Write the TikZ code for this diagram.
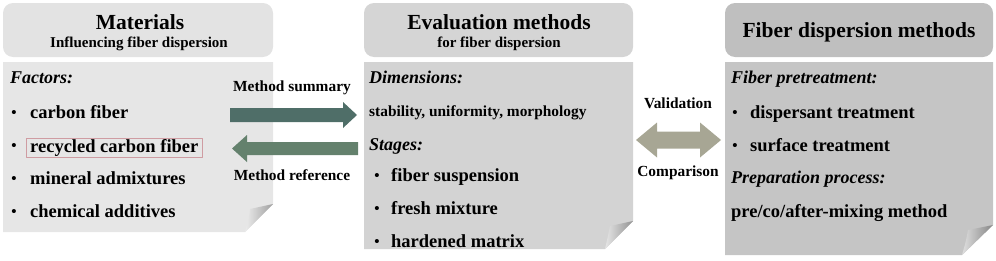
\documentclass[tikz,border=0pt]{standalone}
\usepackage{fontspec}
\setmainfont{Liberation Serif}

\definecolor{mathead}{HTML}{E3E3E3}
\definecolor{matbody}{HTML}{E6E6E6}
\definecolor{evalhead}{HTML}{D5D5D5}
\definecolor{evalbody}{HTML}{D3D3D3}
\definecolor{disphead}{HTML}{BFBFBF}
\definecolor{dispbody}{HTML}{C5C5C5}
\definecolor{sumarrow}{HTML}{4F6E68}
\definecolor{refarrow}{HTML}{64816D}
\definecolor{valarrow}{HTML}{A7A694}
\definecolor{markbox}{HTML}{CF9CA2}

\tikzset{
  headbox/.style={rounded corners=10pt},
  title/.style={inner sep=0pt, font=\fontsize{21.5}{24}\selectfont\bfseries},
  subtitle/.style={inner sep=0pt, font=\fontsize{15}{17}\selectfont\bfseries},
  item/.style={anchor=west, inner sep=0pt, text height=13pt, text depth=4pt, font=\fontsize{18.5}{20}\selectfont\bfseries},
  keyword/.style={item, font=\fontsize{18}{20}\selectfont\bfseries\itshape},
  smallitem/.style={item, text height=11pt, text depth=3pt, font=\fontsize{15.4}{17}\selectfont\bfseries},
  dot/.style={anchor=center, inner sep=0pt, font=\fontsize{15}{17}\selectfont\bfseries},
  arrowtext/.style={inner sep=0pt, font=\fontsize{15.4}{17}\selectfont\bfseries}
}

\begin{document}
\begin{tikzpicture}[x=1pt, y=-1pt, line join=round]
	\useasboundingbox (0,0) rectangle (996,260);

	\fill[mathead, headbox] (3,3) rectangle (273,57);
	\fill[matbody] (3,62) -- (273,62) -- (273,204) -- (245,232) -- (3,232) -- cycle;
	\shade[left color=white!85!gray, right color=gray!75] (273,204) -- (250,209) .. controls (249,218) .. (245,232) -- cycle;

	\fill[evalhead, headbox] (364,3) rectangle (633,57);
	\fill[evalbody] (364,62) -- (633,62) -- (633,221) -- (605,249) -- (364,249) -- cycle;
	\shade[left color=white!80!gray, right color=gray!85] (633,221) -- (610,226) .. controls (608,236) .. (605,249) -- cycle;

	\fill[disphead, headbox] (725,3) rectangle (993,57);
	\fill[dispbody] (725,62) -- (993,62) -- (993,225) -- (962,255) -- (725,255) -- cycle;
	\shade[left color=white!75!gray, right color=gray!95] (993,225) -- (968,230) .. controls (966,241) .. (962,255) -- cycle;

	\node[title] (mattitle) at (140,22) {Materials};
	\node[subtitle] (matsub) at (139,44) {Influencing fiber dispersion};
	\node[keyword] (factors) at (10,79) {Factors:};
	\node[dot] (fdot1) at (14,114) {\textbullet};
	\node[item] (carbon) at (30,114) {carbon fiber};
	\node[dot] (fdot2) at (14,147) {\textbullet};
	\node[item, draw=markbox, inner xsep=4pt, inner ysep=1pt] (recycled) at (26,148) {recycled carbon fiber};
	\node[dot] (fdot3) at (14,180) {\textbullet};
	\node[item] (mineral) at (30,180) {mineral admixtures};
	\node[dot] (fdot4) at (14,213) {\textbullet};
	\node[item] (chemical) at (30,213) {chemical additives};

	\node[title] (evaltitle) at (499,22) {Evaluation methods};
	\node[subtitle] (evalsub) at (499,44) {for fiber dispersion};
	\node[keyword] (dimensions) at (369,79) {Dimensions:};
	\node[smallitem] (stability) at (369,112) {stability, uniformity, morphology};
	\node[keyword] (stages) at (369,146) {Stages:};
	\node[dot] (sdot1) at (377,177) {\textbullet};
	\node[item] (suspension) at (391,177) {fiber suspension};
	\node[dot] (sdot2) at (377,210) {\textbullet};
	\node[item] (fresh) at (391,210) {fresh mixture};
	\node[dot] (sdot3) at (377,243) {\textbullet};
	\node[item] (hardened) at (391,243) {hardened matrix};

	\node[title] (disptitle) at (859,32) {Fiber dispersion methods};
	\node[keyword] (pretreat) at (731,79) {Fiber pretreatment:};
	\node[dot] (pdot1) at (735,114) {\textbullet};
	\node[item] (dispersant) at (750,114) {dispersant treatment};
	\node[dot] (pdot2) at (735,147) {\textbullet};
	\node[item] (surface) at (750,147) {surface treatment};
	\node[keyword] (process) at (731,179) {Preparation process:};
	\node[item] (mixing) at (731,213) {pre/co/after-mixing method};

	\coordinate (sumstart) at (230,115);
	\coordinate (sumend) at (357,115);
	\coordinate (refstart) at (358,148.5);
	\coordinate (refend) at (232,148.5);
	\coordinate (valleft) at (636,140);
	\coordinate (valright) at (721,140);

	\fill[sumarrow] ([shift={(0,-7)}]sumstart) -- ([shift={(-14,-7)}]sumend) -- ([shift={(-14,-13)}]sumend) -- (sumend)
		-- ([shift={(-14,13)}]sumend) -- ([shift={(-14,7)}]sumend) -- ([shift={(0,7)}]sumstart) -- cycle;
	\fill[refarrow] ([shift={(0,-6.5)}]refstart) -- ([shift={(15,-6.5)}]refend) -- ([shift={(15,-13.5)}]refend) -- (refend)
		-- ([shift={(15,13.5)}]refend) -- ([shift={(15,6.5)}]refend) -- ([shift={(0,6.5)}]refstart) -- cycle;
	\fill[valarrow] (valleft) -- ([shift={(21,-17.5)}]valleft) -- ([shift={(21,-8.5)}]valleft) -- ([shift={(-21,-8.5)}]valright)
		-- ([shift={(-21,-17.5)}]valright) -- (valright) -- ([shift={(-21,17.5)}]valright) -- ([shift={(-21,8.5)}]valright)
		-- ([shift={(21,8.5)}]valleft) -- ([shift={(21,17.5)}]valleft) -- cycle;

	\node[arrowtext] (sumtext) at (292,88) {Method summary};
	\node[arrowtext] (reftext) at (292,175) {Method reference};
	\node[arrowtext] (valtext) at (678,103) {Validation};
	\node[arrowtext] (comptext) at (678,173) {Comparison};
\end{tikzpicture}
\end{document}
